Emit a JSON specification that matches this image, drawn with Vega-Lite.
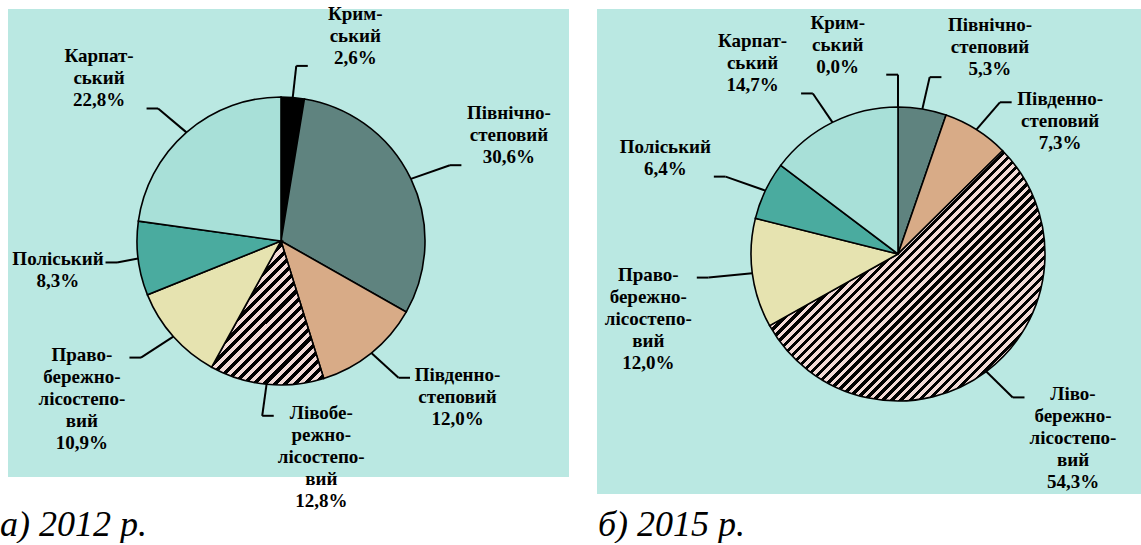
{
  "$schema": "https://vega.github.io/schema/vega-lite/v6.json",
  "background": "white",
  "padding": {"left": 0, "top": 4, "right": 0, "bottom": 0},
  "autosize": {"type": "pad"},
  "spacing": 28,
  "bounds": "flush",
  "config": {
    "view": {"stroke": null},
    "title": {"font": "Liberation Serif", "fontStyle": "italic", "fontWeight": "normal", "fontSize": 36, "color": "black"}
  },
  "datasets": {
    "d": [
      {"year": 2012, "region": "Кримський", "label": "Крим-\nський", "pct": 2.6},
      {"year": 2012, "region": "Північно-степовий", "label": "Північно-\nстеповий", "pct": 30.6},
      {"year": 2012, "region": "Південно-степовий", "label": "Південно-\nстеповий", "pct": 12.0},
      {"year": 2012, "region": "Лівобережно-лісостеповий", "label": "Лівобе-\nрежно-\nлісостепо-\nвий", "pct": 12.8},
      {"year": 2012, "region": "Правобережно-лісостеповий", "label": "Право-\nбережно-\nлісостепо-\nвий", "pct": 10.9},
      {"year": 2012, "region": "Поліський", "label": "Поліський", "pct": 8.3},
      {"year": 2012, "region": "Карпатський", "label": "Карпат-\nський", "pct": 22.8},
      {"year": 2015, "region": "Кримський", "label": "Крим-\nський", "pct": 0.0},
      {"year": 2015, "region": "Північно-степовий", "label": "Північно-\nстеповий", "pct": 5.3},
      {"year": 2015, "region": "Південно-степовий", "label": "Південно-\nстеповий", "pct": 7.3},
      {"year": 2015, "region": "Лівобережно-лісостеповий", "label": "Ліво-\nбережно-\nлісостепо-\nвий", "pct": 54.3},
      {"year": 2015, "region": "Правобережно-лісостеповий", "label": "Право-\nбережно-\nлісостепо-\nвий", "pct": 12.0},
      {"year": 2015, "region": "Поліський", "label": "Поліський", "pct": 6.4},
      {"year": 2015, "region": "Карпатський", "label": "Карпат-\nський", "pct": 14.7}
    ]
  },
  "hconcat": [
    {
      "width": 561,
      "height": 468,
      "view": {"fill": "#bae8e2", "stroke": null},
      "title": {"text": "а) 2012 р.", "orient": "bottom", "anchor": "start", "frame": "group", "offset": -3, "dx": -8},
      "data": {"name": "d"},
      "transform": [
        {"filter": "datum.year == 2012"},
        {"window": [{"op": "row_number", "as": "k"}]},
        {"joinaggregate": [{"op": "sum", "field": "pct", "as": "tot"}]},
        {"window": [{"op": "sum", "field": "pct", "as": "cum"}], "sort": [{"field": "k"}], "frame": [null, 0]},
        {"calculate": "2*PI*(datum.cum - datum.pct/2)/datum.tot", "as": "th"},
        {"calculate": "sin(datum.th)", "as": "s"},
        {"calculate": "cos(datum.th)", "as": "c"},
        {"calculate": "datum.th > 0.05 && datum.th < 3.35 ? 1 : -1", "as": "side"},
        {"window": [{"op": "lag", "field": "th", "as": "pth"}, {"op": "lag", "field": "side", "as": "pside"}], "sort": [{"field": "k"}]},
        {"calculate": "datum.c <= 0.3 ? 't' : ((datum.side > 0 && datum.pside > 0 && (datum.th - datum.pth) < 0.5) ? 't' : 'b')", "as": "vb"},
        {"calculate": "min(max(1.3*datum.s, -1.1386), 1.2428)", "as": "ex"},
        {"calculate": "1.22*datum.c", "as": "ey"},
        {"calculate": "datum.ex + 0.08*datum.side", "as": "hx"},
        {"calculate": "datum.hx + 0.33*datum.side", "as": "tx"},
        {"calculate": "datum.label + '\\n' + replace(format(datum.pct, '.1f'), '.', ',') + '%'", "as": "txt"},
        {"calculate": "length(split(datum.txt, '\\n'))", "as": "n"},
        {"calculate": "datum.ey + (datum.vb == 'b' ? (5 + (datum.n - 1)*22)/144 : 0)", "as": "ty"}
      ],
      "layer": [
        {
          "mark": {"type": "arc", "outerRadius": 144, "stroke": "black", "strokeWidth": 1.6},
          "encoding": {
            "theta": {"field": "pct", "type": "quantitative", "stack": true},
            "order": {"field": "k", "type": "quantitative"},
            "color": {"field": "region", "type": "nominal", "legend": null,
              "scale": {"domain": ["Кримський", "Північно-степовий", "Південно-степовий", "Лівобережно-лісостеповий", "Правобережно-лісостеповий", "Поліський", "Карпатський"],
                        "range": ["#000000", "#5f837f", "#d8ab87", "#a39391", "#e6e3b0", "#4aab9f", "#a8e0d8"]},
              "condition": {"test": "datum.region === 'Лівобережно-лісостеповий'",
                "value": {"gradient": "linear", "x1": 0, "y1": 0, "x2": 0.856, "y2": 1.1, "stops": [
                  {"offset": 0.26, "color": "#f2dad6"}, {"offset": 0.28, "color": "#f2dad6"}, {"offset": 0.28, "color": "#000000"}, {"offset": 0.30, "color": "#000000"},
                  {"offset": 0.30, "color": "#f2dad6"}, {"offset": 0.32, "color": "#f2dad6"}, {"offset": 0.32, "color": "#000000"}, {"offset": 0.34, "color": "#000000"},
                  {"offset": 0.34, "color": "#f2dad6"}, {"offset": 0.36, "color": "#f2dad6"}, {"offset": 0.36, "color": "#000000"}, {"offset": 0.38, "color": "#000000"},
                  {"offset": 0.38, "color": "#f2dad6"}, {"offset": 0.40, "color": "#f2dad6"}, {"offset": 0.40, "color": "#000000"}, {"offset": 0.42, "color": "#000000"},
                  {"offset": 0.42, "color": "#f2dad6"}, {"offset": 0.44, "color": "#f2dad6"}, {"offset": 0.44, "color": "#000000"}, {"offset": 0.46, "color": "#000000"},
                  {"offset": 0.46, "color": "#f2dad6"}, {"offset": 0.48, "color": "#f2dad6"}, {"offset": 0.48, "color": "#000000"}, {"offset": 0.50, "color": "#000000"},
                  {"offset": 0.50, "color": "#f2dad6"}, {"offset": 0.52, "color": "#f2dad6"}, {"offset": 0.52, "color": "#000000"}, {"offset": 0.54, "color": "#000000"},
                  {"offset": 0.54, "color": "#f2dad6"}, {"offset": 0.56, "color": "#f2dad6"}, {"offset": 0.56, "color": "#000000"}, {"offset": 0.58, "color": "#000000"},
                  {"offset": 0.58, "color": "#f2dad6"}, {"offset": 0.60, "color": "#f2dad6"}, {"offset": 0.60, "color": "#000000"}, {"offset": 0.62, "color": "#000000"},
                  {"offset": 0.62, "color": "#f2dad6"}, {"offset": 0.64, "color": "#f2dad6"}, {"offset": 0.64, "color": "#000000"}, {"offset": 0.66, "color": "#000000"},
                  {"offset": 0.66, "color": "#f2dad6"}, {"offset": 0.68, "color": "#f2dad6"}, {"offset": 0.68, "color": "#000000"}, {"offset": 0.70, "color": "#000000"},
                  {"offset": 0.70, "color": "#f2dad6"}, {"offset": 0.72, "color": "#f2dad6"}, {"offset": 0.72, "color": "#000000"}, {"offset": 0.74, "color": "#000000"},
                  {"offset": 0.74, "color": "#f2dad6"}, {"offset": 0.76, "color": "#f2dad6"}, {"offset": 0.76, "color": "#000000"}, {"offset": 0.78, "color": "#000000"},
                  {"offset": 0.78, "color": "#f2dad6"}, {"offset": 0.80, "color": "#f2dad6"}, {"offset": 0.80, "color": "#000000"}, {"offset": 0.82, "color": "#000000"},
                  {"offset": 0.82, "color": "#f2dad6"}, {"offset": 0.84, "color": "#f2dad6"}, {"offset": 0.84, "color": "#000000"}, {"offset": 0.86, "color": "#000000"},
                  {"offset": 0.86, "color": "#f2dad6"}, {"offset": 0.88, "color": "#f2dad6"}, {"offset": 0.88, "color": "#000000"}, {"offset": 0.90, "color": "#000000"},
                  {"offset": 0.90, "color": "#f2dad6"}, {"offset": 0.92, "color": "#f2dad6"}, {"offset": 0.92, "color": "#000000"}, {"offset": 0.94, "color": "#000000"},
                  {"offset": 0.94, "color": "#f2dad6"}, {"offset": 0.96, "color": "#f2dad6"}, {"offset": 0.96, "color": "#000000"}, {"offset": 0.98, "color": "#000000"},
                  {"offset": 0.98, "color": "#f2dad6"}, {"offset": 1.00, "color": "#f2dad6"}
                ]}}},
            "x": {"datum": 0, "type": "quantitative", "scale": {"domain": [-1.8958, 2.0], "nice": false, "zero": false}, "axis": null},
            "y": {"datum": 0, "type": "quantitative", "scale": {"domain": [-1.6389, 1.6111], "nice": false, "zero": false}, "axis": null}
          }
        },
        {
          "mark": {"type": "rule", "color": "black", "strokeWidth": 2},
          "encoding": {
            "x": {"field": "s", "type": "quantitative", "scale": {"domain": [-1.8958, 2.0], "nice": false, "zero": false}, "axis": null},
            "y": {"field": "c", "type": "quantitative", "scale": {"domain": [-1.6389, 1.6111], "nice": false, "zero": false}, "axis": null},
            "x2": {"field": "ex"},
            "y2": {"field": "ey"}
          }
        },
        {
          "mark": {"type": "rule", "color": "black", "strokeWidth": 2},
          "encoding": {
            "x": {"field": "ex", "type": "quantitative", "scale": {"domain": [-1.8958, 2.0], "nice": false, "zero": false}, "axis": null},
            "y": {"field": "ey", "type": "quantitative", "scale": {"domain": [-1.6389, 1.6111], "nice": false, "zero": false}, "axis": null},
            "x2": {"field": "hx"}
          }
        },
        {
          "mark": {"type": "text", "baseline": "top", "align": "center", "dy": -12, "font": "Liberation Serif", "fontWeight": "bold", "fontSize": 19, "lineHeight": 22, "lineBreak": "\n", "color": "black"},
          "encoding": {
            "x": {"field": "tx", "type": "quantitative", "scale": {"domain": [-1.8958, 2.0], "nice": false, "zero": false}, "axis": null},
            "y": {"field": "ty", "type": "quantitative", "scale": {"domain": [-1.6389, 1.6111], "nice": false, "zero": false}, "axis": null},
            "text": {"field": "txt", "type": "nominal"}
          }
        }
      ]
    },
    {
      "width": 544,
      "height": 485,
      "view": {"fill": "#bae8e2", "stroke": null},
      "title": {"text": "б) 2015 р.", "orient": "bottom", "anchor": "start", "frame": "group", "offset": 14, "dx": 1},
      "data": {"name": "d"},
      "transform": [
        {"filter": "datum.year == 2015"},
        {"window": [{"op": "row_number", "as": "k"}]},
        {"joinaggregate": [{"op": "sum", "field": "pct", "as": "tot"}]},
        {"window": [{"op": "sum", "field": "pct", "as": "cum"}], "sort": [{"field": "k"}], "frame": [null, 0]},
        {"calculate": "2*PI*(datum.cum - datum.pct/2)/datum.tot", "as": "th"},
        {"calculate": "sin(datum.th)", "as": "s"},
        {"calculate": "cos(datum.th)", "as": "c"},
        {"calculate": "datum.th > 0.05 && datum.th < 3.35 ? 1 : -1", "as": "side"},
        {"window": [{"op": "lag", "field": "th", "as": "pth"}, {"op": "lag", "field": "side", "as": "pside"}], "sort": [{"field": "k"}]},
        {"calculate": "datum.c <= 0.3 ? 't' : ((datum.side > 0 && datum.pside > 0 && (datum.th - datum.pth) < 0.5) ? 't' : 'b')", "as": "vb"},
        {"calculate": "min(max(1.3*datum.s, -1.2975), 0.903)", "as": "ex"},
        {"calculate": "1.22*datum.c", "as": "ey"},
        {"calculate": "datum.ex + 0.08*datum.side", "as": "hx"},
        {"calculate": "datum.hx + 0.33*datum.side", "as": "tx"},
        {"calculate": "datum.label + '\\n' + replace(format(datum.pct, '.1f'), '.', ',') + '%'", "as": "txt"},
        {"calculate": "length(split(datum.txt, '\\n'))", "as": "n"},
        {"calculate": "datum.ey + (datum.vb == 'b' ? (5 + (datum.n - 1)*22)/147 : 0)", "as": "ty"}
      ],
      "layer": [
        {
          "mark": {"type": "arc", "outerRadius": 147, "stroke": "black", "strokeWidth": 1.6},
          "encoding": {
            "theta": {"field": "pct", "type": "quantitative", "stack": true},
            "order": {"field": "k", "type": "quantitative"},
            "color": {"field": "region", "type": "nominal", "legend": null,
              "scale": {"domain": ["Кримський", "Північно-степовий", "Південно-степовий", "Лівобережно-лісостеповий", "Правобережно-лісостеповий", "Поліський", "Карпатський"],
                        "range": ["#000000", "#5f837f", "#d8ab87", "#a39391", "#e6e3b0", "#4aab9f", "#a8e0d8"]},
              "condition": {"test": "datum.region === 'Лівобережно-лісостеповий'",
                "value": {"gradient": "linear", "x1": 0, "y1": 0, "x2": 1, "y2": 0.909, "stops": [
                  {"offset": 0.330, "color": "#f2dad6"}, {"offset": 0.339, "color": "#f2dad6"}, {"offset": 0.339, "color": "#000000"}, {"offset": 0.348, "color": "#000000"},
                  {"offset": 0.348, "color": "#f2dad6"}, {"offset": 0.357, "color": "#f2dad6"}, {"offset": 0.357, "color": "#000000"}, {"offset": 0.366, "color": "#000000"},
                  {"offset": 0.366, "color": "#f2dad6"}, {"offset": 0.375, "color": "#f2dad6"}, {"offset": 0.375, "color": "#000000"}, {"offset": 0.384, "color": "#000000"},
                  {"offset": 0.384, "color": "#f2dad6"}, {"offset": 0.393, "color": "#f2dad6"}, {"offset": 0.393, "color": "#000000"}, {"offset": 0.402, "color": "#000000"},
                  {"offset": 0.402, "color": "#f2dad6"}, {"offset": 0.411, "color": "#f2dad6"}, {"offset": 0.411, "color": "#000000"}, {"offset": 0.420, "color": "#000000"},
                  {"offset": 0.420, "color": "#f2dad6"}, {"offset": 0.429, "color": "#f2dad6"}, {"offset": 0.429, "color": "#000000"}, {"offset": 0.438, "color": "#000000"},
                  {"offset": 0.438, "color": "#f2dad6"}, {"offset": 0.447, "color": "#f2dad6"}, {"offset": 0.447, "color": "#000000"}, {"offset": 0.456, "color": "#000000"},
                  {"offset": 0.456, "color": "#f2dad6"}, {"offset": 0.465, "color": "#f2dad6"}, {"offset": 0.465, "color": "#000000"}, {"offset": 0.474, "color": "#000000"},
                  {"offset": 0.474, "color": "#f2dad6"}, {"offset": 0.483, "color": "#f2dad6"}, {"offset": 0.483, "color": "#000000"}, {"offset": 0.492, "color": "#000000"},
                  {"offset": 0.492, "color": "#f2dad6"}, {"offset": 0.501, "color": "#f2dad6"}, {"offset": 0.501, "color": "#000000"}, {"offset": 0.510, "color": "#000000"},
                  {"offset": 0.510, "color": "#f2dad6"}, {"offset": 0.519, "color": "#f2dad6"}, {"offset": 0.519, "color": "#000000"}, {"offset": 0.528, "color": "#000000"},
                  {"offset": 0.528, "color": "#f2dad6"}, {"offset": 0.537, "color": "#f2dad6"}, {"offset": 0.537, "color": "#000000"}, {"offset": 0.546, "color": "#000000"},
                  {"offset": 0.546, "color": "#f2dad6"}, {"offset": 0.555, "color": "#f2dad6"}, {"offset": 0.555, "color": "#000000"}, {"offset": 0.564, "color": "#000000"},
                  {"offset": 0.564, "color": "#f2dad6"}, {"offset": 0.573, "color": "#f2dad6"}, {"offset": 0.573, "color": "#000000"}, {"offset": 0.582, "color": "#000000"},
                  {"offset": 0.582, "color": "#f2dad6"}, {"offset": 0.591, "color": "#f2dad6"}, {"offset": 0.591, "color": "#000000"}, {"offset": 0.600, "color": "#000000"},
                  {"offset": 0.600, "color": "#f2dad6"}, {"offset": 0.609, "color": "#f2dad6"}, {"offset": 0.609, "color": "#000000"}, {"offset": 0.618, "color": "#000000"},
                  {"offset": 0.618, "color": "#f2dad6"}, {"offset": 0.627, "color": "#f2dad6"}, {"offset": 0.627, "color": "#000000"}, {"offset": 0.636, "color": "#000000"},
                  {"offset": 0.636, "color": "#f2dad6"}, {"offset": 0.645, "color": "#f2dad6"}, {"offset": 0.645, "color": "#000000"}, {"offset": 0.654, "color": "#000000"},
                  {"offset": 0.654, "color": "#f2dad6"}, {"offset": 0.663, "color": "#f2dad6"}, {"offset": 0.663, "color": "#000000"}, {"offset": 0.672, "color": "#000000"},
                  {"offset": 0.672, "color": "#f2dad6"}, {"offset": 0.681, "color": "#f2dad6"}, {"offset": 0.681, "color": "#000000"}, {"offset": 0.690, "color": "#000000"},
                  {"offset": 0.690, "color": "#f2dad6"}, {"offset": 0.699, "color": "#f2dad6"}, {"offset": 0.699, "color": "#000000"}, {"offset": 0.708, "color": "#000000"},
                  {"offset": 0.708, "color": "#f2dad6"}, {"offset": 0.717, "color": "#f2dad6"}, {"offset": 0.717, "color": "#000000"}, {"offset": 0.726, "color": "#000000"},
                  {"offset": 0.726, "color": "#f2dad6"}, {"offset": 0.735, "color": "#f2dad6"}, {"offset": 0.735, "color": "#000000"}, {"offset": 0.744, "color": "#000000"},
                  {"offset": 0.744, "color": "#f2dad6"}, {"offset": 0.753, "color": "#f2dad6"}, {"offset": 0.753, "color": "#000000"}, {"offset": 0.762, "color": "#000000"},
                  {"offset": 0.762, "color": "#f2dad6"}, {"offset": 0.771, "color": "#f2dad6"}, {"offset": 0.771, "color": "#000000"}, {"offset": 0.780, "color": "#000000"},
                  {"offset": 0.780, "color": "#f2dad6"}, {"offset": 0.789, "color": "#f2dad6"}, {"offset": 0.789, "color": "#000000"}, {"offset": 0.798, "color": "#000000"},
                  {"offset": 0.798, "color": "#f2dad6"}, {"offset": 0.807, "color": "#f2dad6"}, {"offset": 0.807, "color": "#000000"}, {"offset": 0.816, "color": "#000000"},
                  {"offset": 0.816, "color": "#f2dad6"}, {"offset": 0.825, "color": "#f2dad6"}, {"offset": 0.825, "color": "#000000"}, {"offset": 0.834, "color": "#000000"},
                  {"offset": 0.834, "color": "#f2dad6"}, {"offset": 0.843, "color": "#f2dad6"}, {"offset": 0.843, "color": "#000000"}, {"offset": 0.852, "color": "#000000"},
                  {"offset": 0.852, "color": "#f2dad6"}, {"offset": 0.861, "color": "#f2dad6"}, {"offset": 0.861, "color": "#000000"}, {"offset": 0.870, "color": "#000000"},
                  {"offset": 0.870, "color": "#f2dad6"}, {"offset": 0.879, "color": "#f2dad6"}, {"offset": 0.879, "color": "#000000"}, {"offset": 0.888, "color": "#000000"},
                  {"offset": 0.888, "color": "#f2dad6"}, {"offset": 0.897, "color": "#f2dad6"}, {"offset": 0.897, "color": "#000000"}, {"offset": 0.906, "color": "#000000"},
                  {"offset": 0.906, "color": "#f2dad6"}, {"offset": 1.000, "color": "#f2dad6"}
                ]}}},
            "x": {"datum": 0, "type": "quantitative", "scale": {"domain": [-2.0476, 1.6531], "nice": false, "zero": false}, "axis": null},
            "y": {"datum": 0, "type": "quantitative", "scale": {"domain": [-1.6327, 1.6667], "nice": false, "zero": false}, "axis": null}
          }
        },
        {
          "mark": {"type": "rule", "color": "black", "strokeWidth": 2},
          "encoding": {
            "x": {"field": "s", "type": "quantitative", "scale": {"domain": [-2.0476, 1.6531], "nice": false, "zero": false}, "axis": null},
            "y": {"field": "c", "type": "quantitative", "scale": {"domain": [-1.6327, 1.6667], "nice": false, "zero": false}, "axis": null},
            "x2": {"field": "ex"},
            "y2": {"field": "ey"}
          }
        },
        {
          "mark": {"type": "rule", "color": "black", "strokeWidth": 2},
          "encoding": {
            "x": {"field": "ex", "type": "quantitative", "scale": {"domain": [-2.0476, 1.6531], "nice": false, "zero": false}, "axis": null},
            "y": {"field": "ey", "type": "quantitative", "scale": {"domain": [-1.6327, 1.6667], "nice": false, "zero": false}, "axis": null},
            "x2": {"field": "hx"}
          }
        },
        {
          "mark": {"type": "text", "baseline": "top", "align": "center", "dy": -12, "font": "Liberation Serif", "fontWeight": "bold", "fontSize": 19, "lineHeight": 22, "lineBreak": "\n", "color": "black"},
          "encoding": {
            "x": {"field": "tx", "type": "quantitative", "scale": {"domain": [-2.0476, 1.6531], "nice": false, "zero": false}, "axis": null},
            "y": {"field": "ty", "type": "quantitative", "scale": {"domain": [-1.6327, 1.6667], "nice": false, "zero": false}, "axis": null},
            "text": {"field": "txt", "type": "nominal"}
          }
        }
      ]
    }
  ]
}
